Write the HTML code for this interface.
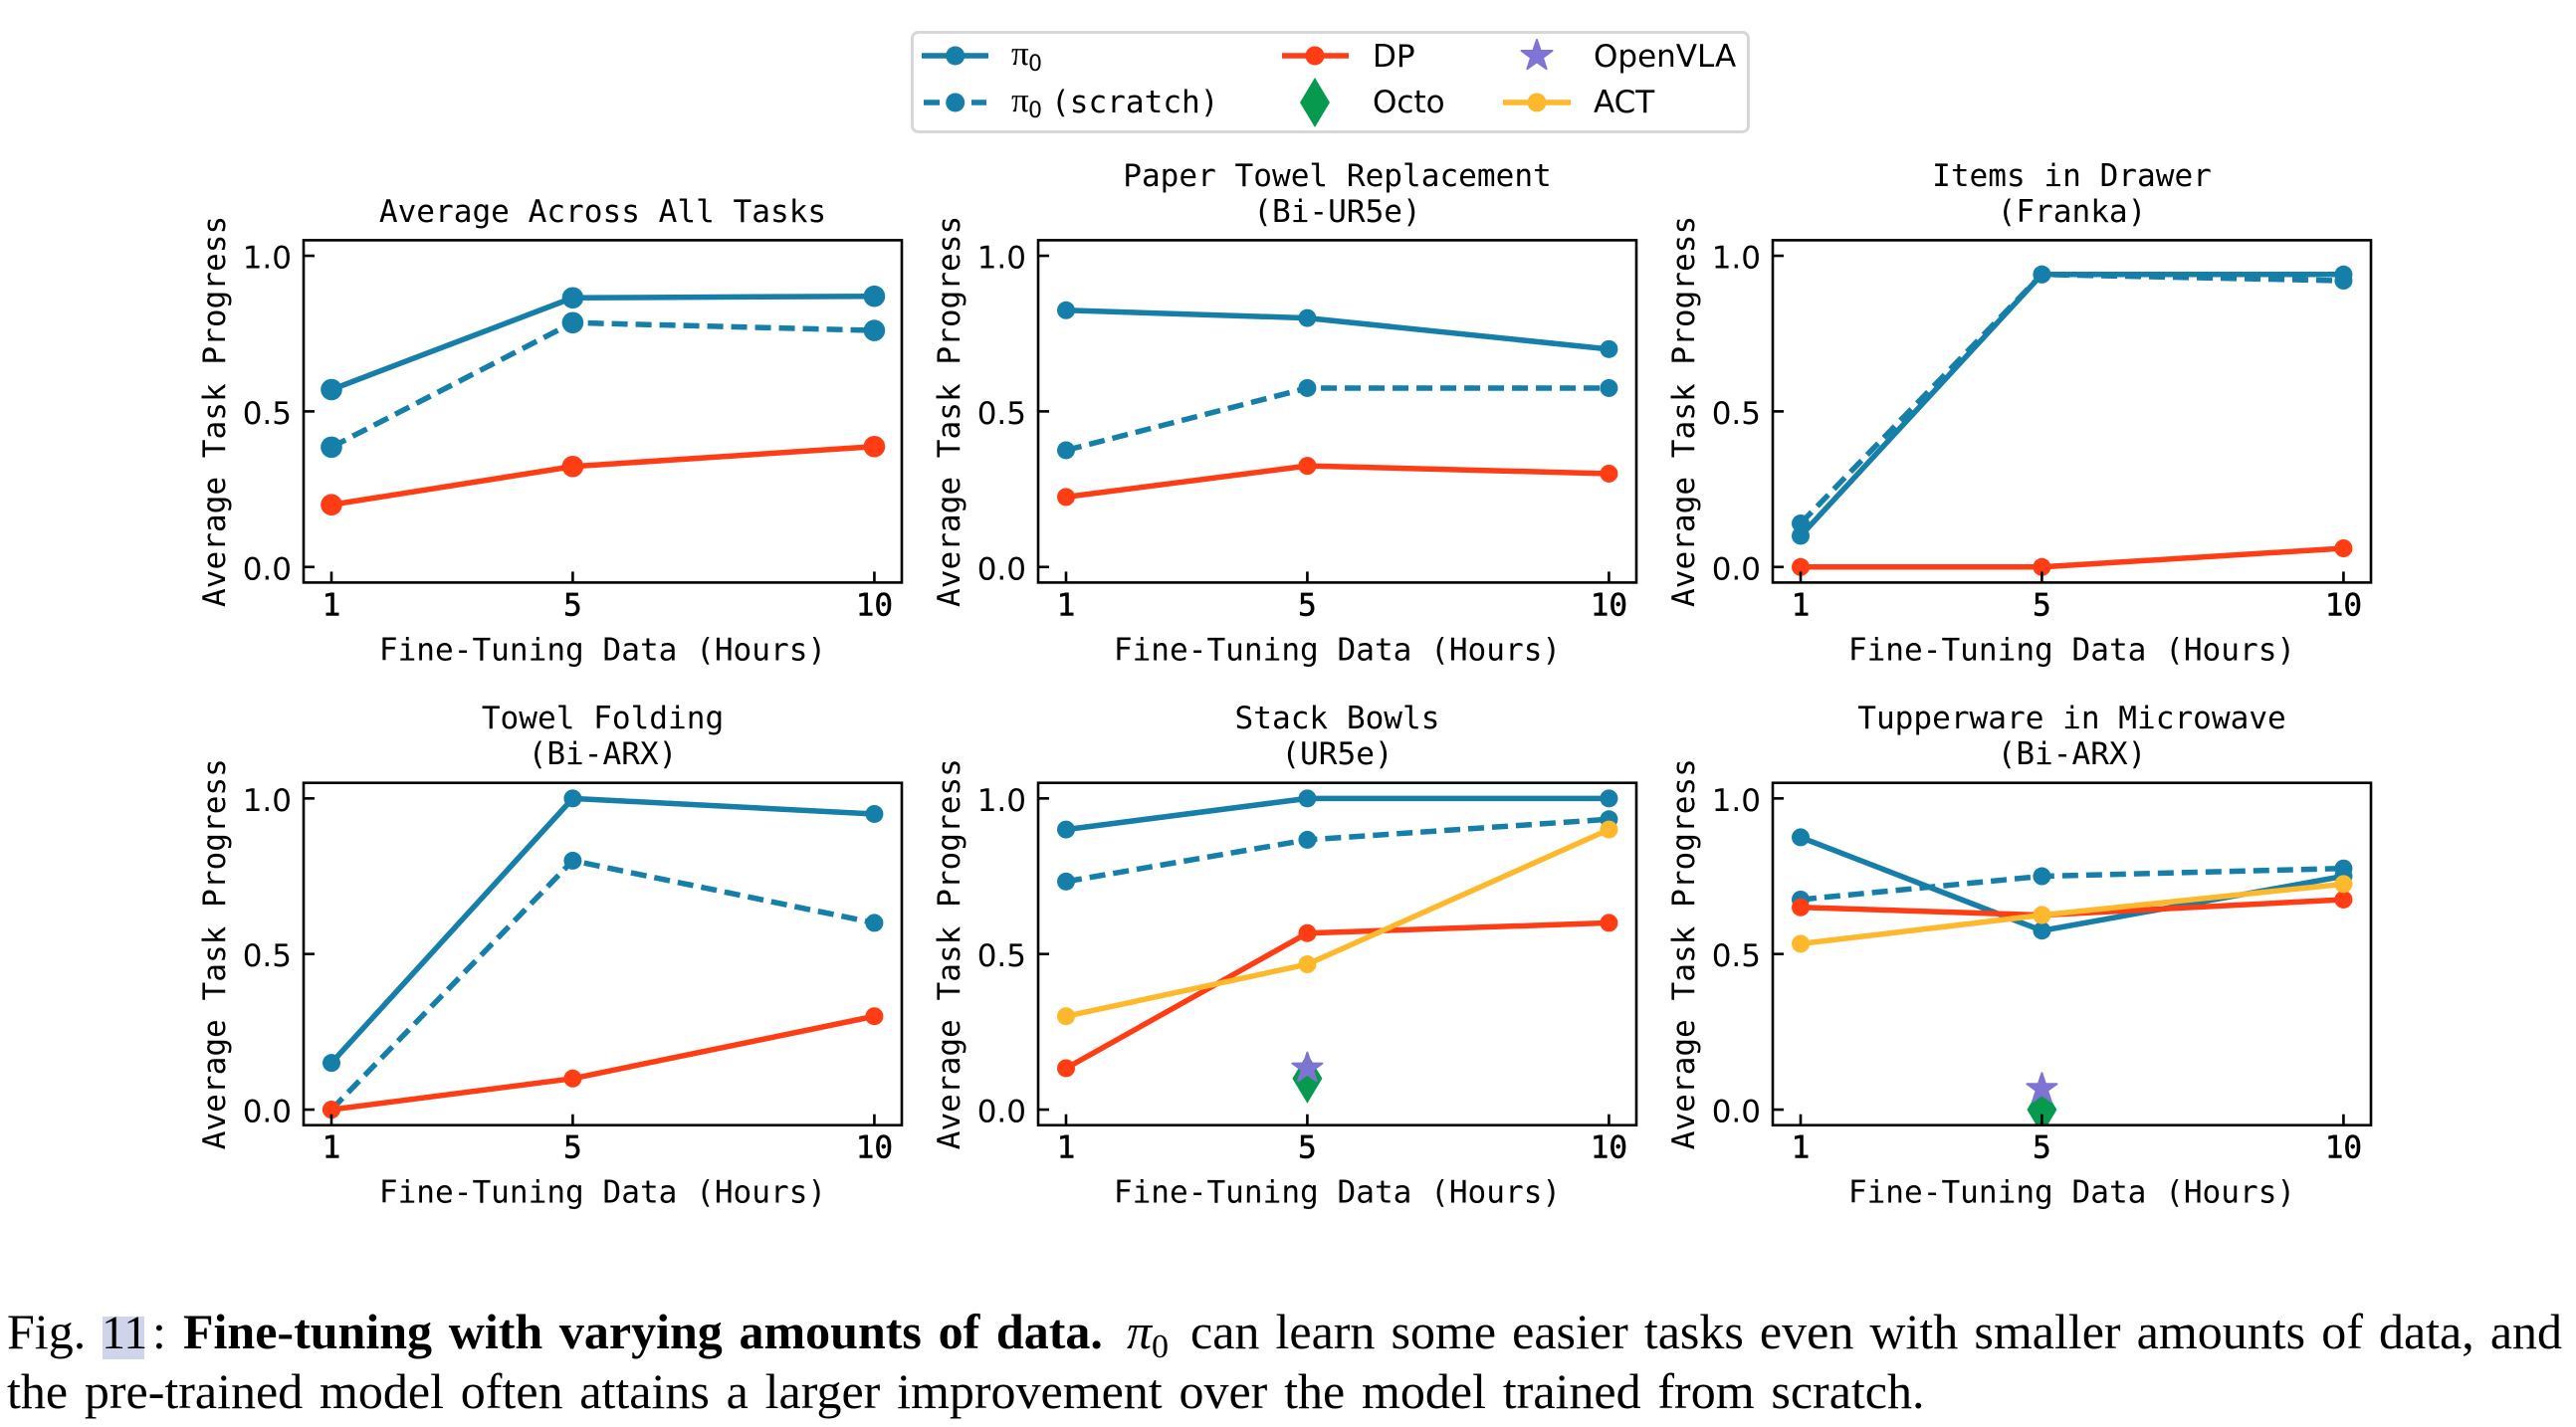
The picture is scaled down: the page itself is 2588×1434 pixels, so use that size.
<!DOCTYPE html>
<html lang="en">
<head>
<meta charset="utf-8">
<title>Fine-tuning with varying amounts of data</title>
<style>
html,body{margin:0;padding:0;background:#fff;}
svg{display:block;}
.mono{font-family:"DejaVu Sans Mono","Liberation Mono",monospace;font-size:31.1px;fill:#000;}
.sans{font-family:"DejaVu Sans","Liberation Sans",sans-serif;font-size:31px;fill:#000;}
.pi{font-family:"Liberation Serif",serif;font-size:35px;fill:#000;}
.sub{font-family:"DejaVu Sans","Liberation Sans",sans-serif;font-size:22px;fill:#000;}
.cap{font-family:"Liberation Serif",serif;font-size:50px;fill:#000;}
.xtick{stroke:#000;stroke-width:0.5px;}
</style>
</head>
<body>
<svg id="figure" xmlns="http://www.w3.org/2000/svg" width="2588" height="1434" viewBox="0 0 2588 1434">
  <rect x="0" y="0" width="2588" height="1434" fill="#ffffff"/>
  <g id="panels"></g>

  <g>
    <rect x="916.5" y="32.5" width="840" height="100" rx="6" fill="#ffffff" stroke="#d8d8d8" stroke-width="3"/>
    <g>
      <line x1="926" y1="56" x2="993" y2="56" stroke="#157fa9" stroke-width="5.5"/>
      <circle cx="959.7" cy="56" r="9.5" fill="#157fa9"/>
      <text class="pi" x="1016" y="65">π</text><text class="sub" x="1033" y="71">0</text>
    </g>
    <g>
      <line x1="928" y1="103" x2="991" y2="103" stroke="#157fa9" stroke-width="5.5" stroke-dasharray="16 8"/>
      <circle cx="959.7" cy="103" r="9.5" fill="#157fa9"/>
      <text class="pi" x="1016" y="112">π</text><text class="sub" x="1033" y="118">0</text>
      <text class="mono" x="1056" y="113">(scratch)</text>
    </g>
    <g>
      <line x1="1288" y1="56" x2="1355" y2="56" stroke="#ff3d14" stroke-width="5.5"/>
      <circle cx="1321" cy="56" r="9.5" fill="#ff3d14"/>
      <text class="sans" x="1379" y="67">DP</text>
    </g>
    <g>
      <polygon points="1321,78 1336,103 1321,128 1306,103" fill="#079a4f"/>
      <text class="sans" x="1379" y="113">Octo</text>
    </g>
    <g>
      <polygon points="1544,40 1547.7,51 1559.5,51 1550,58 1553.6,69.2 1544,62.3 1534.4,69.2 1538,58 1528.5,51 1540.3,51" fill="#7f73d4" stroke="#7f73d4" stroke-width="2" stroke-linejoin="round"/>
      <text class="sans" x="1601" y="67">OpenVLA</text>
    </g>
    <g>
      <line x1="1510" y1="103" x2="1578" y2="103" stroke="#fdb92b" stroke-width="5.5"/>
      <circle cx="1544" cy="103" r="9.5" fill="#fdb92b"/>
      <text class="sans" x="1601" y="113">ACT</text>
    </g>
  </g>

  <g>
    <rect x="103" y="1323" width="42" height="43" fill="#d0d4ea"/>
    <text id="cap1" class="cap" y="1355"><tspan x="7">Fig.</tspan><tspan x="102" font-size="48">11</tspan><tspan x="153">:</tspan><tspan x="184" font-weight="bold" word-spacing="4.2">Fine-tuning with varying amounts of data.</tspan><tspan x="1132" font-style="italic">π</tspan><tspan x="1157" font-size="34" dy="9">0</tspan><tspan x="1196" dy="-9" word-spacing="3.6">can learn some easier tasks even with smaller amounts of data, and</tspan></text>
    <text id="cap2" class="cap" x="7" y="1415" word-spacing="4.3">the pre-trained model often attains a larger improvement over the model trained from scratch.</text>
  </g>
</svg>

<script>
// ---- chart data ----
const hours = [1, 5, 10];
const xTickLabels = ['1', '5', '10'];
const yTickValues = [0, 0.5, 1];
const yTickLabels = ['0.0', '0.5', '1.0'];
const xAxisTitle = 'Fine-Tuning Data (Hours)';
const yAxisTitle = 'Average Task Progress';

const panelTitles = [
  ['Average Across All Tasks'],
  ['Paper Towel Replacement', '(Bi-UR5e)'],
  ['Items in Drawer', '(Franka)'],
  ['Towel Folding', '(Bi-ARX)'],
  ['Stack Bowls', '(UR5e)'],
  ['Tupperware in Microwave', '(Bi-ARX)']
];

const pi0Values = [
  [0.57, 0.865, 0.87],
  [0.825, 0.80, 0.70],
  [0.10, 0.94, 0.94],
  [0.15, 1.0, 0.95],
  [0.90, 1.0, 1.0],
  [0.875, 0.575, 0.75]
];
const scratchValues = [
  [0.385, 0.785, 0.76],
  [0.375, 0.575, 0.575],
  [0.14, 0.94, 0.92],
  [0.0, 0.80, 0.60],
  [0.733, 0.867, 0.933],
  [0.675, 0.75, 0.775]
];
const dpValues = [
  [0.20, 0.323, 0.387],
  [0.225, 0.325, 0.30],
  [0.0, 0.0, 0.06],
  [0.0, 0.10, 0.30],
  [0.133, 0.567, 0.60],
  [0.65, 0.625, 0.675]
];
const actValues = [null, null, null, null, [0.30, 0.467, 0.90], [0.533, 0.625, 0.725]];
const octoValues = [null, null, null, null, 0.10, 0.0];
const openVlaValues = [null, null, null, null, 0.133, 0.067];
const singleRunHour = 5;

// ---- layout ----
const NS = 'http://www.w3.org/2000/svg';
const panelsRoot = document.getElementById('panels');
const PANEL_W = 601, PANEL_H = 344;
const X_MIN = 0.538, X_MAX = 10.455, Y_MIN = -0.05, Y_MAX = 1.05;
const COLORS = {pi0: '#157fa9', scratch: '#157fa9', dp: '#ff3d14', act: '#fdb92b', octo: '#079a4f', openvla: '#7f73d4'};

function make(tag, attrs, parent) {
  const el = document.createElementNS(NS, tag);
  for (const k in attrs) el.setAttribute(k, attrs[k]);
  parent.appendChild(el);
  return el;
}

function drawSeries(group, clipId, values, color, dashed, radius, xs, ys, label) {
  const seriesGroup = make('g', {'clip-path': 'url(#' + clipId + ')'}, group);
  
  
  const pts = values.map((v, i) => xs(hours[i]) + ',' + ys(v)).join(' ');
  const line = make('polyline', {points: pts, fill: 'none', stroke: color, 'stroke-width': 5.5, 'stroke-linejoin': 'round'}, seriesGroup);
  
  
  if (dashed) line.setAttribute('stroke-dasharray', '16 8');
  values.forEach((v, i) => {
    const dot = make('circle', {cx: xs(hours[i]), cy: ys(v), r: radius, fill: color}, seriesGroup);
    
    
  });
}

function starPoints(cx, cy, R) {
  const pts = [];
  for (let k = 0; k < 10; k++) {
    const r = k % 2 === 0 ? R : R * 0.382;
    const a = -Math.PI / 2 + k * Math.PI / 5;
    pts.push((cx + r * Math.cos(a)) + ',' + (cy + r * Math.sin(a)));
  }
  return pts.join(' ');
}

panelTitles.forEach((titleLines, p) => {
  const left = 305 + 738 * (p % 3);
  const top = 241.4 + 545.3 * Math.floor(p / 3);
  const bottom = top + PANEL_H;
  const xs = v => left + PANEL_W * (v - X_MIN) / (X_MAX - X_MIN);
  const ys = v => top + PANEL_H * (Y_MAX - v) / (Y_MAX - Y_MIN);
  const radius = p === 0 ? 10.8 : 9;

  const g = make('g', {}, panelsRoot);
  
  

  const clipId = 'clip' + p;
  const clip = make('clipPath', {id: clipId}, g);
  make('rect', {x: left, y: top, width: PANEL_W, height: PANEL_H}, clip);

  // series
  drawSeries(g, clipId, pi0Values[p], COLORS.pi0, false, radius, xs, ys, 'series-pi0');
  drawSeries(g, clipId, scratchValues[p], COLORS.scratch, true, radius, xs, ys, 'series-pi0-scratch');
  drawSeries(g, clipId, dpValues[p], COLORS.dp, false, radius, xs, ys, 'series-dp');

  if (octoValues[p] !== null) {
    const cx = xs(singleRunHour), cy = ys(octoValues[p]);
    const octo = make('polygon', {points: cx + ',' + (cy - 25) + ' ' + (cx + 15) + ',' + cy + ' ' + cx + ',' + (cy + 25) + ' ' + (cx - 15) + ',' + cy, fill: COLORS.octo, 'clip-path': 'url(#' + clipId + ')'}, g);
    
    
  }
  if (openVlaValues[p] !== null) {
    const vla = make('polygon', {points: starPoints(xs(singleRunHour), ys(openVlaValues[p]), 15.8), fill: COLORS.openvla, stroke: COLORS.openvla, 'stroke-width': 2, 'stroke-linejoin': 'round', 'clip-path': 'url(#' + clipId + ')'}, g);
    
    
  }
  if (actValues[p] !== null) {
    drawSeries(g, clipId, actValues[p], COLORS.act, false, radius, xs, ys, 'series-act');
  }

  // frame
  const frame = make('rect', {x: left, y: top, width: PANEL_W, height: PANEL_H, fill: 'none', stroke: '#000', 'stroke-width': 2.6}, g);
  
  

  // y ticks
  yTickValues.forEach((v, i) => {
    const y = ys(v);
    const tick = make('line', {x1: left, x2: left + 11, y1: y, y2: y, stroke: '#000', 'stroke-width': 2.6}, g);
    
    
    const lab = make('text', {x: left - 12, y: y + 12.5, 'text-anchor': 'end', class: 'sans'}, g);
    
    
    lab.textContent = yTickLabels[i];
  });

  // x ticks
  hours.forEach((h, i) => {
    const x = xs(h);
    const tick = make('line', {x1: x, x2: x, y1: bottom, y2: bottom - 11, stroke: '#000', 'stroke-width': 2.6}, g);
    
    
    const lab = make('text', {x: x, y: bottom + 33, 'text-anchor': 'middle', class: 'mono xtick'}, g);
    
    
    lab.textContent = xTickLabels[i];
  });

  // axis titles
  const xt = make('text', {x: left + PANEL_W / 2, y: bottom + 78, 'text-anchor': 'middle', class: 'mono'}, g);
  
  
  xt.textContent = xAxisTitle;

  const yx = left - 79, yy = top + PANEL_H / 2;
  const yt = make('text', {x: yx, y: yy, 'text-anchor': 'middle', class: 'mono', transform: 'rotate(-90 ' + yx + ' ' + yy + ')'}, g);
  
  
  yt.textContent = yAxisTitle;

  // panel title
  titleLines.forEach((line, i) => {
    const base = top - 18.5 - 36 * (titleLines.length - 1 - i);
    const t = make('text', {x: left + PANEL_W / 2, y: base, 'text-anchor': 'middle', class: 'mono'}, g);
    
    
    t.textContent = line;
  });
});
</script>
</body>
</html>
